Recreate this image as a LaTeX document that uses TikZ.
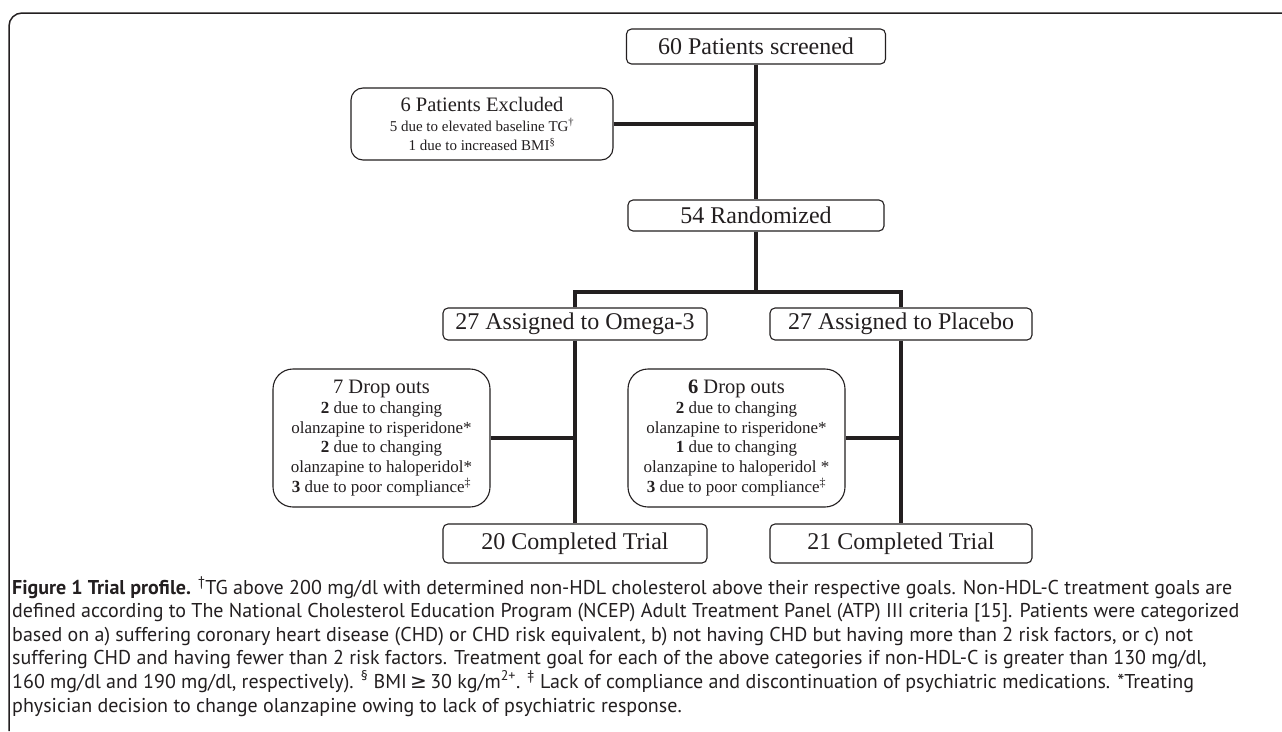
\documentclass[tikz,border=0pt]{standalone}
\usepackage{fontspec}
\newfontfamily\boxfont{Liberation Serif}
\newfontfamily\capfont{PT Sans}
\newfontfamily\symfont{DejaVu Sans}
\definecolor{ink}{HTML}{231F20}
\begin{document}
\begin{tikzpicture}[x=1pt,y=-1pt,
  box/.style={draw=ink, line width=1.1pt, rounded corners=5pt, inner sep=0pt, text=ink,
    font=\boxfont\fontsize{24}{26}\selectfont, minimum height=32pt},
  bigbox/.style={draw=ink, line width=1.1pt, inner sep=0pt, text=ink, align=center},
  conn/.style={draw=ink, line width=3.5pt},
  capline/.style={anchor=base west, inner sep=0pt, text=ink, font=\capfont\fontsize{20}{23.6}\selectfont}
]
\useasboundingbox (0,0) rectangle (1282,731);
\fill[white] (0,0) rectangle (1282,731);
\draw[ink, line width=1.5pt, rounded corners=13pt] (9,731) -- (9,13) -- (1282,13);

% boxes
\node[box, minimum width=259pt, minimum height=35pt] (screen) at (756,46.5) {60 Patients screened};
\node[bigbox, rounded corners=12pt, minimum width=262pt, minimum height=72pt,
  font=\boxfont\fontsize{15}{19.5}\selectfont] (excl) at (482,124)
  {{\fontsize{20.5}{20}\selectfont 6 Patients Excluded}\\
   5 due to elevated baseline TG\textsuperscript{†}\\
   1 due to increased BMI\textsuperscript{§}};
\node[box, minimum width=256pt, minimum height=31pt] (rand) at (756,215.5) {54 Randomized};
\node[box, minimum width=264pt] (omega) at (575,324) {27 Assigned to Omega-3};
\node[box, minimum width=262pt] (plac) at (901,324) {27 Assigned to Placebo};
\node[bigbox, rounded corners=20pt, minimum width=217pt, minimum height=138pt,
  font=\boxfont\fontsize{17}{19.8}\selectfont] (drop1) at (381.5,438)
  {{\fontsize{20.5}{20}\selectfont 7 Drop outs}\\
   \textbf{2} due to changing\\
   olanzapine to risperidone*\\
   \textbf{2} due to changing\\
   olanzapine to haloperidol*\\
   \textbf{3} due to poor compliance\textsuperscript{‡}};
\node[bigbox, rounded corners=20pt, minimum width=217pt, minimum height=138pt,
  font=\boxfont\fontsize{17}{19.8}\selectfont] (drop2) at (736.5,438)
  {{\fontsize{20.5}{20}\selectfont\textbf{6} Drop outs}\\
   \textbf{2} due to changing\\
   olanzapine to risperidone*\\
   \textbf{1} due to changing\\
   olanzapine to haloperidol *\\
   \textbf{3} due to poor compliance\textsuperscript{‡}};
\node[box, minimum width=264pt, minimum height=39pt] (comp1) at (575,543.5) {20 Completed Trial};
\node[box, minimum width=262pt, minimum height=39pt] (comp2) at (901,543.5) {21 Completed Trial};

% connectors
\coordinate (split) at (756,292);
\draw[conn] (screen.south) -- (rand.north);
\draw[conn] (excl.east) -- (excl.east -| screen.south);
\draw[conn] (rand.south) -- (split);
\draw[conn] (omega.north) |- (split) -| (plac.north);
\draw[conn] (omega.south) -- (comp1.north);
\draw[conn] (drop1.east) -- (drop1.east -| omega.south);
\draw[conn] (plac.south) -- (comp2.north);
\draw[conn] (drop2.east) -- (drop2.east -| plac.south);

% caption
\node[capline] (cap1) at (12,594) {\textbf{Figure 1 Trial profile.} \textsuperscript{†}TG above 200 mg/dl with determined non-HDL cholesterol above their respective goals. Non-HDL-C treatment goals are};
\node[capline] (cap2) at (12,617.6) {defined according to The National Cholesterol Education Program (NCEP) Adult Treatment Panel (ATP) III criteria [15]. Patients were categorized};
\node[capline] (cap3) at (12,641.2) {based on a) suffering coronary heart disease (CHD) or CHD risk equivalent, b) not having CHD but having more than 2 risk factors, or c) not};
\node[capline] (cap4) at (12,664.8) {suffering CHD and having fewer than 2 risk factors. Treatment goal for each of the above categories if non-HDL-C is greater than 130 mg/dl,};
\node[capline] (cap5) at (12,688.4) {160 mg/dl and 190 mg/dl, respectively). \textsuperscript{§} BMI\,{\symfont ≥}\,30 kg/m\textsuperscript{2+}. \textsuperscript{‡} Lack of compliance and discontinuation of psychiatric medications. *Treating};
\node[capline] (cap6) at (12,712) {physician decision to change olanzapine owing to lack of psychiatric response.};
\end{tikzpicture}
\end{document}
